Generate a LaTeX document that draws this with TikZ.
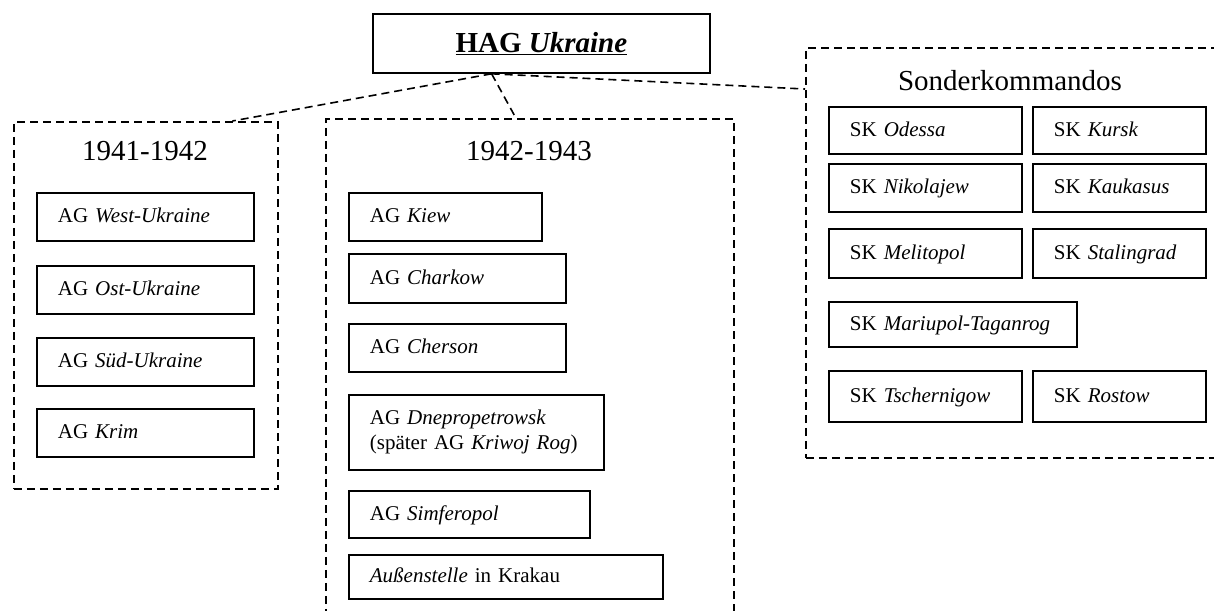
\documentclass[tikz,border=0pt]{standalone}
\usepackage{fontspec}
\setmainfont{Liberation Serif}
\usetikzlibrary{calc}

\tikzset{
    item/.style={draw, line width=1.8pt, anchor=north west, inner xsep=21pt, inner ysep=0pt, align=left, text height=17pt, text depth=5pt, font=\fontsize{21}{25}\selectfont},
    group/.style={draw, line width=1.6pt, dash pattern=on 8pt off 5pt, anchor=north west, inner sep=0pt},
    grouptitle/.style={anchor=base, font=\fontsize{29}{34}\selectfont},
    link/.style={line width=1.6pt, dash pattern=on 8pt off 5pt}
}

\begin{document}
\begin{tikzpicture}[x=1pt, y=-1pt]
    \useasboundingbox (0,0) rectangle (1214,610);
    \clip (0,0) rectangle (1214,610);

    % HAG
    \node[draw, line width=1.8pt, anchor=north west, minimum width=337pt, minimum height=59pt, font=\fontsize{29}{34}\selectfont\bfseries] (hag) at (372,13) {\underline{HAG \textit{Ukraine}}};
    \coordinate (hub) at ($(hag.south west)!0.353!(hag.south east)$);

    % 1941-1942
    \node[group, minimum width=264pt, minimum height=367pt] (early) at (13,121) {};
    \node[grouptitle] (earlyT) at (145,160) {1941-1942};
    \node[item, text width=175pt, minimum height=48pt] (westUkr) at (36,192) {AG \textit{West-Ukraine}};
    \node[item, text width=175pt, minimum height=48pt] (ostUkr) at (36,265) {AG \textit{Ost-Ukraine}};
    \node[item, text width=175pt, minimum height=48pt] (suedUkr) at (36,337) {AG \textit{Süd-Ukraine}};
    \node[item, text width=175pt, minimum height=48pt] (krim) at (36,408) {AG \textit{Krim}};

    % 1942-1943 (runs on below the page)
    \node[group, minimum width=408pt, minimum height=540pt] (mid) at (325,118) {};
    \node[grouptitle] (midT) at (529,160) {1942-1943};
    \node[item, text width=151pt, minimum height=48pt] (kiew) at (348,192) {AG \textit{Kiew}};
    \node[item, text width=175pt, minimum height=49pt] (charkow) at (348,253) {AG \textit{Charkow}};
    \node[item, text width=175pt, minimum height=48pt] (cherson) at (348,323) {AG \textit{Cherson}};
    \node[item, text width=213pt, text height=, text depth=, minimum height=75pt] (dnepr) at (348,394) {AG \textit{Dnepropetrowsk}\\(später AG \textit{Kriwoj Rog})};
    \node[item, text width=199pt, minimum height=47pt] (simf) at (348,490) {AG \textit{Simferopol}};
    \node[item, text width=272pt, minimum height=44pt] (krakau) at (348,554) {\textit{Außenstelle} in Krakau};

    % Sonderkommandos (runs on past the right edge)
    \node[group, minimum width=411pt, minimum height=410pt] (sonder) at (805,47) {};
    \node[grouptitle] (sonderT) at (1010,90) {Sonderkommandos};
    \node[item, text width=151pt, minimum height=47pt] (odessa) at (828,106) {SK \textit{Odessa}};
    \node[item, text width=131pt, minimum height=47pt] (kursk) at (1032,106) {SK \textit{Kursk}};
    \node[item, text width=151pt, minimum height=48pt] (nikol) at (828,163) {SK \textit{Nikolajew}};
    \node[item, text width=131pt, minimum height=48pt] (kauk) at (1032,163) {SK \textit{Kaukasus}};
    \node[item, text width=151pt, minimum height=49pt] (melit) at (828,228) {SK \textit{Melitopol}};
    \node[item, text width=131pt, minimum height=49pt] (stal) at (1032,228) {SK \textit{Stalingrad}};
    \node[item, text width=206pt, minimum height=45pt] (mariu) at (828,301) {SK \textit{Mariupol-Taganrog}};
    \node[item, text width=151pt, minimum height=51pt] (tscher) at (828,370) {SK \textit{Tschernigow}};
    \node[item, text width=131pt, minimum height=51pt] (rostow) at (1032,370) {SK \textit{Rostow}};

    % links from HAG
    \draw[link] (hub) -- ($(early.north west)!0.826!(early.north east)$);
    \draw[link] (hub) -- ($(mid.north west)!0.466!(mid.north east)$);
    \draw[link] (hub) -- ($(sonder.north west)+(0,42)$);
\end{tikzpicture}
\end{document}
